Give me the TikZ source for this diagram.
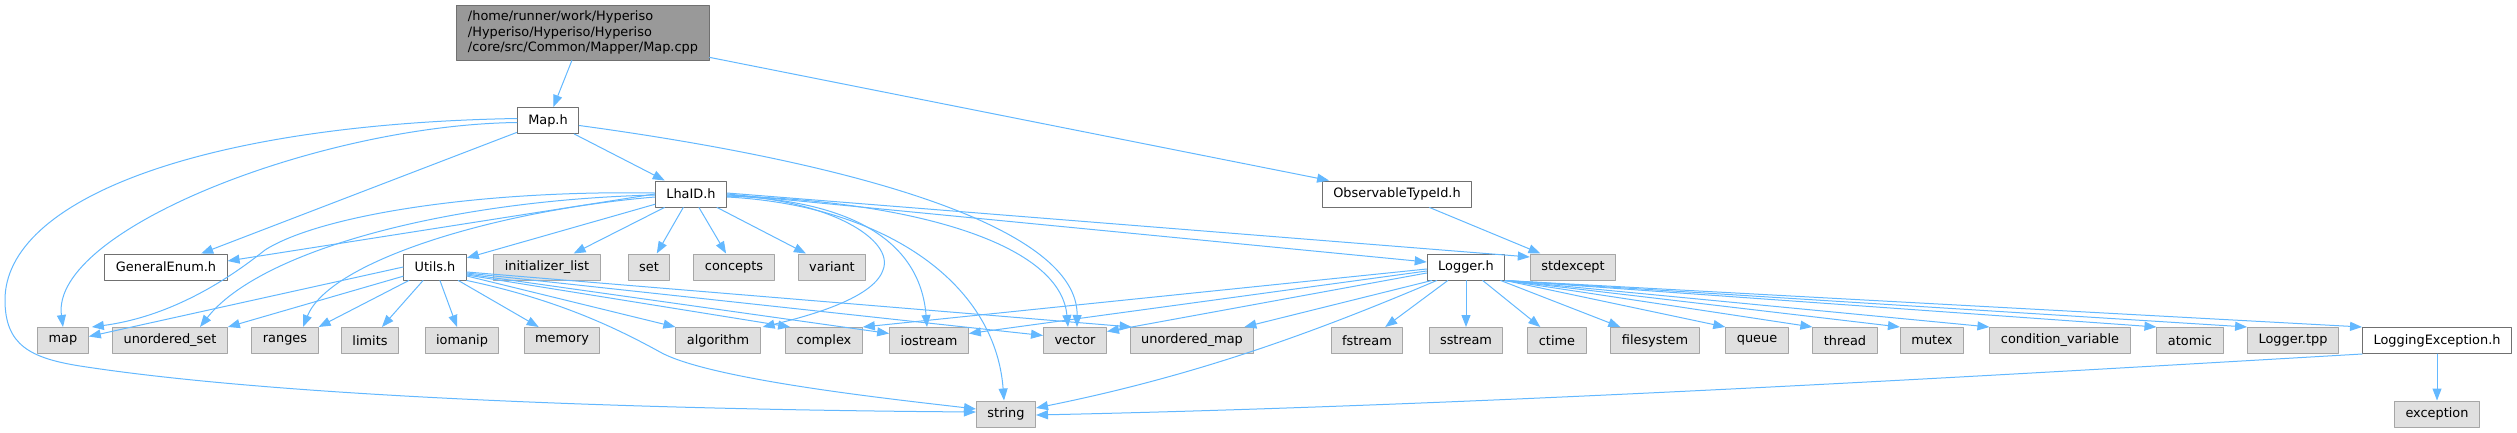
\documentclass[tikz,border=0pt]{standalone}
\usepackage{fontspec}
\setmainfont{DejaVu Sans}
\usetikzlibrary{arrows.meta}
\definecolor{edgeblue}{HTML}{63B8FF}
\definecolor{sysfill}{HTML}{E0E0E0}
\definecolor{sysborder}{HTML}{A6A6A6}
\definecolor{hdrborder}{HTML}{707070}
\definecolor{rootfill}{HTML}{999999}
\newcommand{\graphfont}{\fontsize{12.9}{15.5}\selectfont}

\begin{document}
\begin{tikzpicture}[x=1pt,y=-1pt,>={Triangle[length=12pt,width=9pt]},font=\graphfont,line join=round,line cap=round,
	hdrbox/.style={draw=hdrborder,fill=white,line width=1pt,minimum height=26pt,inner xsep=11pt,inner ysep=0pt},
	extbox/.style={hdrbox,draw=sysborder,fill=sysfill},
	incl/.style={->,draw=edgeblue,line width=1pt}]
	\useasboundingbox (0,0) rectangle (2517,432);
	
	% project files
	\node[hdrbox,fill=rootfill,align=left,minimum height=55pt] (mapcpp) at (583,32.5) {/home/runner/work/Hyperiso\\/Hyperiso/Hyperiso/Hyperiso\\/core/src/Common/Mapper/Map.cpp};
	\node[hdrbox] (maph) at (548,120.5) {Map.h};
	\node[hdrbox] (lhaid) at (691,194) {LhaID.h};
	\node[hdrbox] (obstype) at (1397,194) {ObservableTypeId.h};
	\node[hdrbox] (genenum) at (166,267) {GeneralEnum.h};
	\node[hdrbox] (utils) at (435,267) {Utils.h};
	\node[hdrbox] (logger) at (1466,267) {Logger.h};
	\node[hdrbox] (logexc) at (2437,340.5) {LoggingException.h};
	
	% system headers
	\node[extbox] (initlist) at (547,267) {initializer\_list};
	\node[extbox] (set) at (649,267) {set};
	\node[extbox] (concepts) at (734,267) {concepts};
	\node[extbox] (variant) at (832,267) {variant};
	\node[extbox] (stdexcept) at (1573,267) {stdexcept};
	\node[extbox] (map) at (63,340.5) {map};
	\node[extbox] (uset) at (170,340.5) {unordered\_set};
	\node[extbox] (ranges) at (285,340.5) {ranges};
	\node[extbox] (limits) at (370,340.5) {limits};
	\node[extbox] (iomanip) at (462,340.5) {iomanip};
	\node[extbox] (memory) at (562,340.5) {memory};
	\node[extbox] (algorithm) at (718,340.5) {algorithm};
	\node[extbox] (complex) at (824,340.5) {complex};
	\node[extbox] (iostream) at (929,340.5) {iostream};
	\node[extbox] (vector) at (1075,340.5) {vector};
	\node[extbox] (umap) at (1192,340.5) {unordered\_map};
	\node[extbox] (fstream) at (1367,340.5) {fstream};
	\node[extbox] (sstream) at (1466,340.5) {sstream};
	\node[extbox] (ctime) at (1557,340.5) {ctime};
	\node[extbox] (filesystem) at (1655,340.5) {filesystem};
	\node[extbox] (queue) at (1757,340.5) {queue};
	\node[extbox] (thread) at (1845,340.5) {thread};
	\node[extbox] (mutex) at (1932,340.5) {mutex};
	\node[extbox] (condvar) at (2060,340.5) {condition\_variable};
	\node[extbox] (atomic) at (2190,340.5) {atomic};
	\node[extbox] (loggertpp) at (2293,340.5) {Logger.tpp};
	\node[extbox] (string) at (1006,414) {string};
	\node[extbox] (exception) at (2437,414) {exception};
	
	% Map.cpp, Map.h
	\draw[incl] (mapcpp) -- (maph);
	\draw[incl] (mapcpp) -- (obstype);
	\draw[incl] (maph) -- (lhaid);
	\draw[incl] (maph) -- (genenum);
	\draw[incl] ([yshift=-2pt]maph.west) .. controls (320,125) and (50,230) .. (map.north);
	\draw[incl] ([yshift=2pt]maph.west) .. controls (200,124) and (5,200) .. (5,300) .. controls (5,345) and (30,358) .. (80,366) .. controls (300,400) and (700,410) .. ([yshift=2pt]string.west);
	\draw[incl] ([yshift=-5pt]maph.east) .. controls (870,165) and (1078,230) .. ([xshift=2pt]vector.north);
	
	% LhaID.h
	\draw[incl] (lhaid.west) -- ([yshift=6pt]genenum.east);
	\draw[incl] (lhaid) -- (utils);
	\draw[incl] (lhaid) -- (initlist);
	\draw[incl] (lhaid) -- (set);
	\draw[incl] (lhaid) -- (concepts);
	\draw[incl] (lhaid) -- (variant);
	\draw[incl] ([yshift=1pt]lhaid.west) .. controls (480,190) and (320,215) .. (265,250) .. controls (215,290) and (160,318) .. ([xshift=3pt]map.north east);
	\draw[incl] ([yshift=-1pt]lhaid.west) .. controls (450,200) and (260,250) .. ([xshift=30pt]uset.north);
	\draw[incl] ([yshift=-3pt]lhaid.west) .. controls (500,210) and (330,260) .. ([xshift=18pt]ranges.north);
	\draw[incl] ([yshift=-1pt]lhaid.east) .. controls (830,200) and (895,240) .. (883,270) .. controls (873,300) and (800,318) .. ([xshift=2pt]algorithm.north east);
	\draw[incl] ([yshift=-2pt]lhaid.east) .. controls (850,200) and (920,240) .. ([xshift=-2pt]iostream.north);
	\draw[incl] ([yshift=-3pt]lhaid.east) .. controls (880,205) and (995,280) .. ([xshift=-2pt]string.north);
	\draw[incl] ([yshift=-2pt]lhaid.east) .. controls (900,200) and (1060,240) .. ([xshift=-7pt]vector.north);
	\draw[incl] (lhaid.east) -- ([yshift=5pt]logger.west);
	\draw[incl] ([yshift=1pt]lhaid.east) -- ([yshift=10pt]stdexcept.west);
	
	% Utils.h
	\draw[incl] (utils.west) -- ([yshift=4pt]map.east);
	\draw[incl] (utils) -- (uset.north east);
	\draw[incl] (utils) -- (ranges.north east);
	\draw[incl] (utils) -- (limits);
	\draw[incl] (utils) -- (iomanip);
	\draw[incl] (utils) -- (memory);
	\draw[incl] ([yshift=-9pt]utils.east) -- (algorithm.north west);
	\draw[incl] ([yshift=-8pt]utils.east) -- ([xshift=5pt]complex.north west);
	\draw[incl] ([yshift=-7pt]utils.east) -- ([yshift=7pt]iostream.west);
	\draw[incl] ([yshift=-6pt]utils.east) -- ([yshift=5pt]vector.west);
	\draw[incl] ([yshift=-5pt]utils.east) -- ([xshift=2pt]umap.north west);
	\draw[incl] (utils.south east) .. controls (560,300) and (620,330) .. (660,352) .. controls (710,380) and (900,400) .. ([yshift=5pt]string.west);
	
	% Logger.h
	\draw[incl] ([yshift=-2pt]logger.west) -- (complex.north east);
	\draw[incl] ([yshift=-4pt]logger.west) -- ([yshift=7pt]iostream.east);
	\draw[incl] ([yshift=-6pt]logger.west) -- ([yshift=9pt]vector.east);
	\draw[incl] ([xshift=5pt]logger.south west) -- ([xshift=-10pt]umap.north east);
	\draw[incl] ([xshift=10pt]logger.south west) .. controls (1320,330) and (1200,375) .. ([yshift=6pt]string.east);
	\draw[incl] (logger) -- (fstream);
	\draw[incl] (logger) -- (sstream);
	\draw[incl] (logger) -- (ctime);
	\draw[incl] (logger) -- (filesystem);
	\foreach \n in {queue,thread,mutex,condvar,atomic,loggertpp,logexc}
		\draw[incl] (logger.south east) -- (\n.north west);
	
	% the rest
	\draw[incl] (obstype) -- (stdexcept);
	\draw[incl] (logexc.south west) .. controls (2000,375) and (1500,405) .. ([yshift=-1pt]string.east);
	\draw[incl] (logexc) -- (exception);
\end{tikzpicture}
\end{document}
